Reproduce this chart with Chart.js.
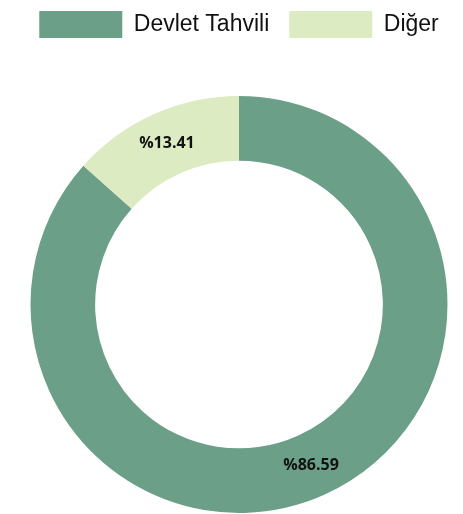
<!DOCTYPE html>
<html><head><meta charset="utf-8">
<script src="https://cdn.jsdelivr.net/npm/chart.js@4"></script>
<style>html,body{margin:0;padding:0;background:#fff}#w{width:463px;height:514px}</style>
</head><body><div id="w"><canvas id="c"></canvas></div>
<script>
const categories = ["Devlet Tahvili", "Diğer"];
const values = [86.59, 13.41];
const valueLabels = ["%86.59", "%13.41"];
const colors = ["#6b9f88", "#ddebc2"];

const labelPlugin = {
  id: 'sliceLabels',
  afterDatasetsDraw(chart) {
    const ctx = chart.ctx;
    const meta = chart.getDatasetMeta(0);
    ctx.save();
    ctx.font = 'bold 16px "Open Sans", sans-serif';
    ctx.fillStyle = '#111';
    ctx.textAlign = 'center';
    ctx.textBaseline = 'middle';
    meta.data.forEach((arc, i) => {
      const p = arc.tooltipPosition();
      ctx.fillText(valueLabels[i], p.x, p.y);
    });
    ctx.restore();
  }
};
const legendSpace = {
  id: 'legendSpace',
  beforeInit(chart) {
    const orig = chart.legend.fit;
    chart.legend.fit = function() { orig.bind(chart.legend)(); this.height += 48; };
  }
};

new Chart(document.getElementById('c'), {
  type: 'doughnut',
  data: { labels: categories, datasets: [{ data: values, backgroundColor: colors, borderWidth: 0 }] },
  options: {
    responsive: true, maintainAspectRatio: false, animation: false,
    cutout: '69%',
    layout: { padding: { left: 15, top: -9, bottom: 1 } },
    plugins: {
      tooltip: { enabled: false },
      legend: {
        position: 'top',
        labels: { boxWidth: 83, boxHeight: 27, padding: 20, color: '#111',
          font: { size: 23, family: '"Liberation Sans", Arial, sans-serif' } }
      }
    }
  },
  plugins: [labelPlugin, legendSpace]
});
</script></body></html>
